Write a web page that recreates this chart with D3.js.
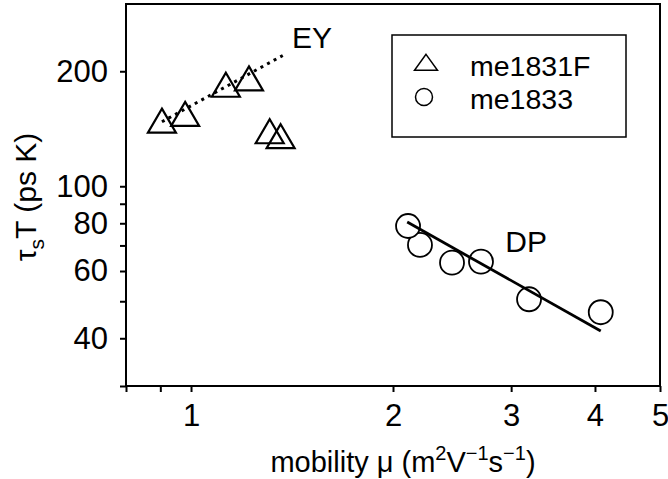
<!DOCTYPE html>
<html>
<head>
<meta charset="utf-8">
<script src="https://cdn.jsdelivr.net/npm/d3@7"></script>
<style>
  body { margin: 0; background: #fff; }
  svg { display: block; font-family: "Liberation Sans", Arial, Helvetica, sans-serif; }
</style>
</head>
<body>
<div id="chart"></div>
<script>
// me1831F (triangles)
const me1831F_mu = [0.905, 0.98, 1.127, 1.22, 1.31, 1.36]
const me1831F_tau = [145, 151, 180, 187, 136, 132]

// me1833 (circles)
const me1833_mu = [2.106, 2.194, 2.449, 2.705, 3.19, 4.08]
const me1833_tau = [78.7, 70.2, 63.1, 63.5, 50.6, 46.8]

// fit lines
const ey_mu = [0.905, 1.37]
const ey_tau = [147.5, 220]
const dp_mu = [2.10, 4.08]
const dp_tau = [80.6, 41.8]

const xTicks = [0.8, 0.9, 1, 2, 3, 4, 5]
const xTickLabels = [1, 2, 3, 4, 5]
const yTicks = [30, 40, 50, 60, 70, 80, 90, 100, 200]
const yTickLabels = [40, 60, 80, 100, 200]

const legendNames = ['me1831F', 'me1833']

const width = 668, height = 479
const margin = { top: 4, right: 8, bottom: 93, left: 126 }

const svg = d3.select('#chart')
              .append('svg')
              .attr('width', width)
              .attr('height', height)

const x = d3.scaleLog()
            .domain([0.8, 5])
            .range([margin.left, width - margin.right])

const y = d3.scaleLog()
            .domain([30, 300])
            .range([height - margin.bottom, margin.top])

// frame
svg.append('rect')
   .attr('x', margin.left)
   .attr('y', margin.top)
   .attr('width', width - margin.right - margin.left)
   .attr('height', height - margin.bottom - margin.top)
   .attr('fill', 'none')
   .attr('stroke', '#000')
   .attr('stroke-width', 2)

svg.append('g')
   .attr('transform', `translate(0,${height - margin.bottom})`)
   .call(d3.axisBottom(x)
           .tickValues(xTicks)
           .tickSize(6)
           .tickPadding(12)
           .tickFormat(d => xTickLabels.includes(d) ? d : ''))

svg.append('g')
   .attr('transform', `translate(${margin.left},0)`)
   .call(d3.axisLeft(y)
           .tickValues(yTicks)
           .tickSize(6)
           .tickPadding(12)
           .tickFormat(d => yTickLabels.includes(d) ? d : ''))

svg.selectAll('.domain').remove()
svg.selectAll('.tick line').attr('stroke-width', 2)
svg.selectAll('.tick text')
   .attr('font-size', 31)
   .attr('font-family', '"Liberation Sans", Arial, sans-serif')
   .attr('fill', '#000')

// triangle path centred on centroid
const tri = (w, h) => `M0,${-2 * h / 3}L${w / 2},${h / 3}L${-w / 2},${h / 3}Z`

const triData = me1831F_mu.map((m, i) => ({ mu: m, tau: me1831F_tau[i] }))
const circData = me1833_mu.map((m, i) => ({ mu: m, tau: me1833_tau[i] }))

svg.selectAll('.tri')
   .data(triData)
   .enter()
   .append('path')
   .attr('class', 'tri')
   .attr('d', tri(28, 24))
   .attr('transform', d => `translate(${x(d.mu)},${y(d.tau)})`)
   .attr('fill', 'none')
   .attr('stroke', '#000')
   .attr('stroke-width', 2.2)

svg.selectAll('.circ')
   .data(circData.slice().reverse())
   .enter()
   .append('circle')
   .attr('class', 'circ')
   .attr('cx', d => x(d.mu))
   .attr('cy', d => y(d.tau))
   .attr('r', 12)
   .attr('fill', '#fff')
   .attr('stroke', '#000')
   .attr('stroke-width', 1.8)

const line = d3.line().x(d => x(d[0])).y(d => y(d[1]))

svg.append('path')
   .attr('d', line(d3.zip(ey_mu, ey_tau)))
   .attr('fill', 'none')
   .attr('stroke', '#000')
   .attr('stroke-width', 3)
   .attr('stroke-dasharray', '3,4.5')

svg.append('path')
   .attr('d', line(d3.zip(dp_mu, dp_tau)))
   .attr('fill', 'none')
   .attr('stroke', '#000')
   .attr('stroke-width', 2.8)

// annotations
svg.append('text')
   .attr('x', x(1.414))
   .attr('y', y(229.6))
   .attr('font-size', 30)
   .text('EY')

svg.append('text')
   .attr('x', x(2.94))
   .attr('y', y(67.4))
   .attr('font-size', 30)
   .text('DP')

// legend
const legend = svg.append('g')
legend.append('rect')
      .attr('x', 392)
      .attr('y', 35)
      .attr('width', 234)
      .attr('height', 102)
      .attr('fill', '#fff')
      .attr('stroke', '#000')
      .attr('stroke-width', 1.5)

legend.append('path')
      .attr('d', tri(23, 16))
      .attr('transform', 'translate(426,65)')
      .attr('fill', 'none')
      .attr('stroke', '#000')
      .attr('stroke-width', 1.5)

legend.append('circle')
      .attr('cx', 424)
      .attr('cy', 97)
      .attr('r', 8.5)
      .attr('fill', 'none')
      .attr('stroke', '#000')
      .attr('stroke-width', 1.5)

legend.selectAll('.legend-label')
      .data(legendNames)
      .enter()
      .append('text')
      .attr('class', 'legend-label')
      .attr('x', 470)
      .attr('y', (d, i) => 76 + i * 33)
      .attr('font-size', 28.5)
      .text(d => d)

// axis titles
const xt = svg.append('text')
   .attr('x', 403)
   .attr('y', 472)
   .attr('text-anchor', 'middle')
   .attr('font-size', 29)
xt.append('tspan').text('mobility \u03bc (m')
xt.append('tspan').attr('font-size', 20).attr('dy', -12).text('2')
xt.append('tspan').attr('dy', 12).text('V')
xt.append('tspan').attr('font-size', 20).attr('dy', -12).text('\u22121')
xt.append('tspan').attr('dy', 12).text('s')
xt.append('tspan').attr('font-size', 20).attr('dy', -12).text('\u22121')
xt.append('tspan').attr('dy', 12).text(')')

const yt = svg.append('text')
   .attr('transform', 'translate(36,197) rotate(-90)')
   .attr('text-anchor', 'middle')
   .attr('font-size', 30)
yt.append('tspan').text('\u03c4')
yt.append('tspan').attr('font-size', 21).attr('dy', 8).text('s')
yt.append('tspan').attr('dy', -8).text('T (ps K)')
</script>
</body>
</html>
